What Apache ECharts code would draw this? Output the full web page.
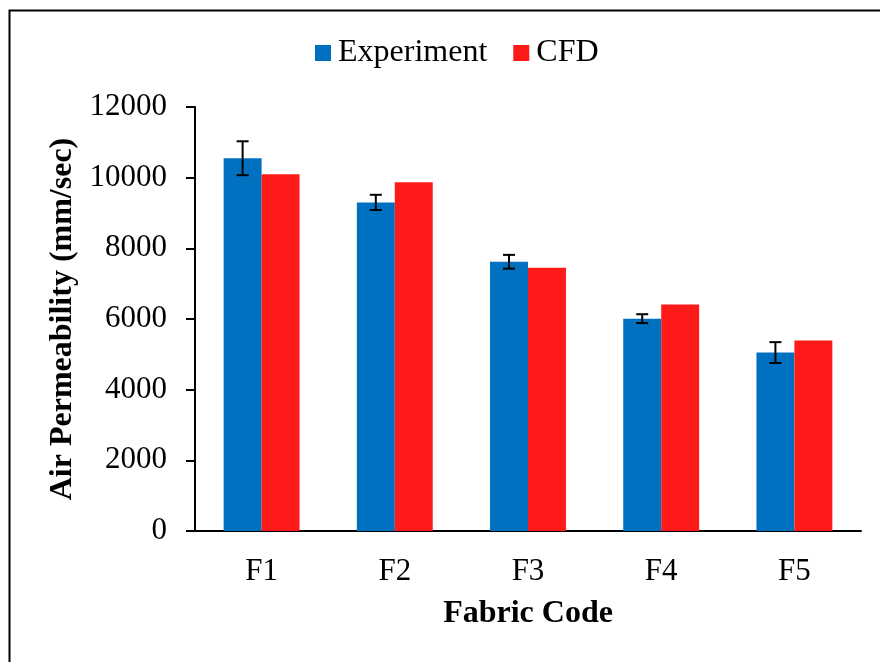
<!DOCTYPE html>
<html>
<head>
<meta charset="utf-8">
<script src="https://cdn.jsdelivr.net/npm/echarts@6/dist/echarts.min.js"></script>
<style>
  html, body { margin: 0; padding: 0; background: #fff; }
  #main { width: 880px; height: 662px; }
</style>
</head>
<body>
<div id="main"></div>
<script>
// data
var categories = ["F1", "F2", "F3", "F4", "F5"];
var experiment = [10550, 9300, 7620, 6010, 5050];
var experimentErr = [480, 215, 195, 125, 295];
var cfd = [10100, 9870, 7450, 6410, 5390];
var yTicks = [0, 2000, 4000, 6000, 8000, 10000, 12000];

var font = "Liberation Serif";
var barPct = 0.285;

var errData = [];
for (var i = 0; i < categories.length; i++) {
  errData.push([i, experiment[i], experimentErr[i]]);
}

var myChart = echarts.init(document.getElementById("main"));
myChart.setOption({
  animation: false,
  backgroundColor: "#fff",
  graphic: [
    {
      type: "rect",
      left: 7,
      top: 8,
      shape: { width: 900, height: 700 },
      style: { fill: "none", stroke: "#000", lineWidth: 2 },
      z: 100
    }
  ],
  legend: {
    top: 32,
    left: 310,
    itemWidth: 16,
    itemHeight: 16,
    itemGap: 26,
    icon: "rect",
    textStyle: { fontFamily: font, fontSize: 32, color: "#000", padding: [0, 0, 0, 2] },
    data: ["Experiment", "CFD"]
  },
  grid: { left: 195, right: 19, top: 107, bottom: 131 },
  xAxis: {
    type: "category",
    data: categories,
    axisLine: { lineStyle: { color: "#000", width: 2 } },
    axisTick: { length: 8, lineStyle: { color: "#000", width: 2 } },
    axisLabel: { fontFamily: font, fontSize: 31, color: "#000", margin: 25 },
    name: "Fabric Code",
    nameLocation: "middle",
    nameGap: 67,
    nameTextStyle: { fontFamily: font, fontSize: 32, fontWeight: "bold", color: "#000" }
  },
  yAxis: {
    type: "value",
    min: yTicks[0],
    max: yTicks[yTicks.length - 1],
    interval: 2000,
    splitLine: { show: false },
    axisLine: { show: true, lineStyle: { color: "#000", width: 2 } },
    axisTick: { show: true, length: 9, lineStyle: { color: "#000", width: 2 } },
    axisLabel: { fontFamily: font, fontSize: 31, color: "#000", margin: 28, formatter: function (v) { return String(v); } },
    name: "Air Permeability (mm/sec)",
    nameLocation: "middle",
    nameGap: 112,
    nameTextStyle: { fontFamily: font, fontSize: 32, fontWeight: "bold", color: "#000" }
  },
  series: [
    {
      name: "Experiment",
      type: "bar",
      barWidth: (barPct * 100) + "%",
      barGap: "0%",
      data: experiment,
      itemStyle: { color: "#0070c0" }
    },
    {
      name: "CFD",
      type: "bar",
      barWidth: (barPct * 100) + "%",
      data: cfd,
      itemStyle: { color: "#ff1a1a" }
    },
    {
      // error bars on the experiment bars
      type: "custom",
      name: "err",
      data: errData,
      encode: { x: 0, y: 1 },
      z: 10,
      renderItem: function (params, api) {
        var idx = api.value(0);
        var v = api.value(1);
        var e = api.value(2);
        var w = api.size([1, 0])[0];
        var x = api.coord([idx, 0])[0] - w * barPct / 2;
        var top = api.coord([idx, v + e])[1];
        var bot = api.coord([idx, v - e])[1];
        var cap = 6;
        var st = { stroke: "#000", lineWidth: 2 };
        return {
          type: "group",
          children: [
            { type: "line", shape: { x1: x, y1: top, x2: x, y2: bot }, style: st },
            { type: "line", shape: { x1: x - cap, y1: top, x2: x + cap, y2: top }, style: st },
            { type: "line", shape: { x1: x - cap, y1: bot, x2: x + cap, y2: bot }, style: st }
          ]
        };
      }
    }
  ]
});
</script>
</body>
</html>
